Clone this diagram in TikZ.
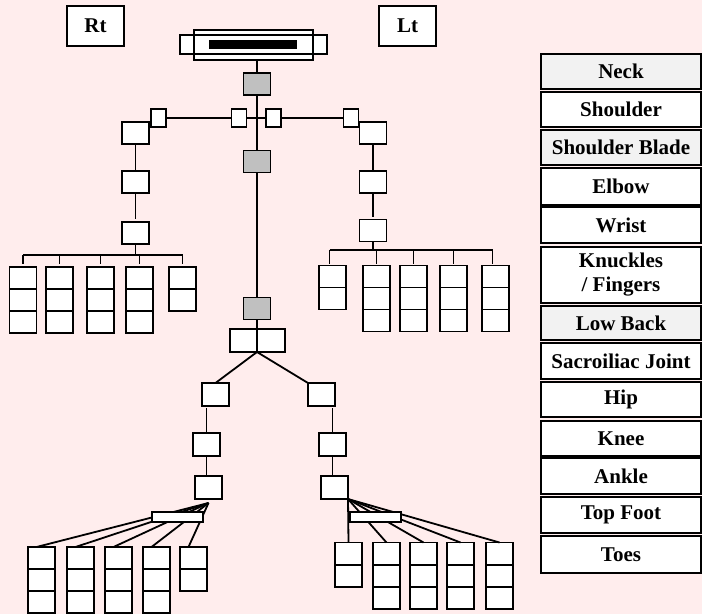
\documentclass[tikz,border=0pt]{standalone}
\usepackage{fontspec}
\setmainfont{Liberation Serif}
\usetikzlibrary{calc}
\definecolor{bg}{RGB}{255,237,237}
\definecolor{gbox}{RGB}{192,192,192}
\definecolor{lgray}{RGB}{242,242,242}
\begin{document}
\begin{tikzpicture}[x=1pt,y=-1pt,
  bx/.style={draw, fill=white, line width=1.9pt, inner sep=0pt, outer sep=0pt},
  cell/.style={bx, minimum width=27pt, minimum height=22pt},
  sq/.style={bx, minimum width=27pt, minimum height=22pt},
  gx/.style={sq, fill=gbox},
  sm/.style={bx, minimum width=15pt, minimum height=18pt},
  ln/.style={line width=1.8pt},
  lab/.style={font=\fontsize{21}{24}\selectfont\bfseries, align=center},
  leg/.style={bx, line width=2pt, lab, minimum width=160pt}]
\fill[bg] (0,0) rectangle (702,614);
\useasboundingbox (0,0) rectangle (702,614);

% side labels
\node[bx, lab, minimum width=57pt, minimum height=40pt] (rt) at (95.5,26) {Rt};
\node[bx, lab, minimum width=57pt, minimum height=40pt] (lt) at (407.5,26) {Lt};

% head
\node[bx, minimum width=147pt, minimum height=19pt] (hout) at (253.5,44.5) {};
\node[bx, minimum width=119pt, minimum height=30pt] (hin) at (253.5,45) {};
\draw[line width=1.9pt] (hout.north west) rectangle (hout.south east);
\node[fill=black, inner sep=0pt, minimum width=88pt, minimum height=9pt] (hbar) at (253,44.5) {};

% spine
\node[gx] (g1) at (257,84) {};
\node[gx] (g2) at (257,161.5) {};
\node[gx] (g3) at (257,308.5) {};
\node[sq, minimum height=23pt] (pl) at (243.5,340.5) {};
\node[sq, minimum width=28pt, minimum height=23pt] (pr) at (271,340.5) {};

% shoulders / arms
\node[sq] (lsh) at (135.5,133) {};
\node[sq] (rsh) at (373,133) {};
\node[sm] (lsm) at (158.5,118) {};
\node[sm] (mls) at (239,118) {};
\node[sm] (mrs) at (273.5,118) {};
\node[sm] (rsm) at (351,118) {};
\node[sq] (lel) at (135.5,182) {};
\node[sq] (rel) at (373,182) {};
\node[sq] (lwr) at (135.5,233) {};
\node[sq] (rwr) at (373,230.5) {};

% fingers
\foreach \x/\n [count=\i] in {23/3,59.5/3,100.5/3,139.5/3,182.5/2}{
  \foreach \y [count=\j] in {278,300,322}{
    \ifnum\j>\n\relax\else\node[cell] (lf\i-\j) at (\x,\y) {};\fi
  }
}
\foreach \x/\n [count=\i] in {332.5/2,376.5/3,413.5/3,453.5/3,495.5/3}{
  \foreach \y [count=\j] in {276.5,298.5,320.5}{
    \ifnum\j>\n\relax\else\node[cell] (rf\i-\j) at (\x,\y) {};\fi
  }
}

% legs
\node[sq, minimum height=23pt] (lhip) at (215.5,394.5) {};
\node[sq, minimum height=23pt] (rhip) at (321.5,394.5) {};
\node[sq, minimum height=23pt] (lkn) at (206.5,444.5) {};
\node[sq, minimum height=23pt] (rkn) at (332.5,444.5) {};
\node[sq, minimum height=23pt] (lan) at (208.5,487.5) {};
\node[sq, minimum height=23pt] (ran) at (334.5,487.5) {};

% toes
\foreach \x/\n [count=\i] in {41.5/3,80.5/3,118.5/3,156.5/3,193.5/2}{
  \foreach \y [count=\j] in {558,580,602}{
    \ifnum\j>\n\relax\else\node[cell] (lt\i-\j) at (\x,\y) {};\fi
  }
}
\foreach \x/\n [count=\i] in {348.5/2,386.5/3,423.5/3,460.5/3,499.5/3}{
  \foreach \y [count=\j] in {553.5,576,598}{
    \ifnum\j>\n\relax\else\node[cell] (rt\i-\j) at (\x,\y) {};\fi
  }
}

% connectors: spine
\draw[ln] (g1.north |- hin.south) -- (g1.north);
\draw[ln] (g1.south) -- (g2.north);
\draw[ln] (g2.south) -- (g3.north);
\draw[ln] (g3.south) -- (pl.north east);
\draw[ln] (lsm.east) -- (mls.west);
\draw[ln] (mls.east) -- (mrs.west);
\draw[ln] (mrs.east) -- (rsm.west);

% arms
\draw[ln] (lsh.south) -- (lel.north);
\draw[ln, shorten >=3pt] (lel.south) -- (lwr.north);
\draw[ln] (rsh.south) -- (rel.north);
\draw[ln, shorten >=3pt] (rel.south) -- (rwr.north);

% hands
\coordinate (lhb) at (0,255);
\draw[ln] (lf1-1.north |- lhb) -- (lf5-1.north |- lhb);
\draw[ln] (lwr.south) -- (lwr.south |- lhb);
\foreach \i in {1,...,5}{\draw[ln, shorten >=3pt] (lf\i-1.north |- lhb) -- (lf\i-1.north);}
\coordinate (rhb) at (0,250);
\draw[ln] ([xshift=-3pt]rf1-1.north |- rhb) -- ([xshift=-3pt]rf5-1.north |- rhb);
\draw[ln] (rwr.south) -- (rwr.south |- rhb);
\draw[ln, shorten >=2pt] ([xshift=-3pt]rf1-1.north |- rhb) -- ([xshift=-3pt]rf1-1.north);
\foreach \i in {2,...,4}{\draw[ln, shorten >=2pt] (rf\i-1.north |- rhb) -- (rf\i-1.north);}
\draw[ln, shorten >=2pt] ([xshift=-3pt]rf5-1.north |- rhb) -- ([xshift=-3pt]rf5-1.north);

% legs
\draw[ln] (pl.south east) -- (lhip.north);
\draw[ln] (pl.south east) -- (rhip.north west);
\draw[ln, shorten <=2pt] (lkn.north |- lhip.south) -- (lkn.north);
\draw[ln] (lkn.south) -- (lkn.south |- lan.north);
\draw[ln, shorten <=2pt] (rkn.north |- rhip.south) -- (rkn.north);
\draw[ln] (rkn.south) -- (rkn.south |- ran.north);

% feet fans
\coordinate (lfp) at ([yshift=-4pt]lan.south);
\foreach \i in {1,...,5}{\draw[ln] (lfp) -- ([xshift=-5pt]lt\i-1.north);}
\foreach \i in {1,...,5}{\draw[ln] (ran.south east) -- (rt\i-1.north);}
\node[bx, minimum width=51pt, minimum height=10pt] (lfb) at (177.5,517) {};
\node[bx, minimum width=51pt, minimum height=10pt] (rfb) at (375.5,517) {};

% legend
\node[leg, fill=lgray, minimum height=35pt] (k1) at (621,71.5) {Neck};
\node[leg, minimum height=35pt] (k2) at (621,109.5) {Shoulder};
\node[leg, fill=lgray, minimum height=35pt] (k3) at (621,147.5) {Shoulder Blade};
\node[leg, minimum height=37pt] (k4) at (621,186.5) {Elbow};
\node[leg, minimum height=36pt] (k5) at (621,225) {Wrist};
\node[leg, minimum height=56pt] (k6) at (621,275) {Knuckles\\/ Fingers};
\node[leg, fill=lgray, minimum height=34pt] (k7) at (621,323) {Low Back};
\node[leg, minimum height=36pt] (k8) at (621,361) {Sacroiliac Joint};
\node[leg, minimum height=35pt] (k9) at (621,399.5) {Hip};
\node[leg, minimum height=35pt] (k10) at (621,438.5) {Knee};
\node[leg, minimum height=36pt] (k11) at (621,476) {Ankle};
\node[leg, minimum height=36pt] (k12) at (621,515) {Top Foot};
\node[leg, minimum height=37pt] (k13) at (621,554.5) {Toes};
\end{tikzpicture}
\end{document}
